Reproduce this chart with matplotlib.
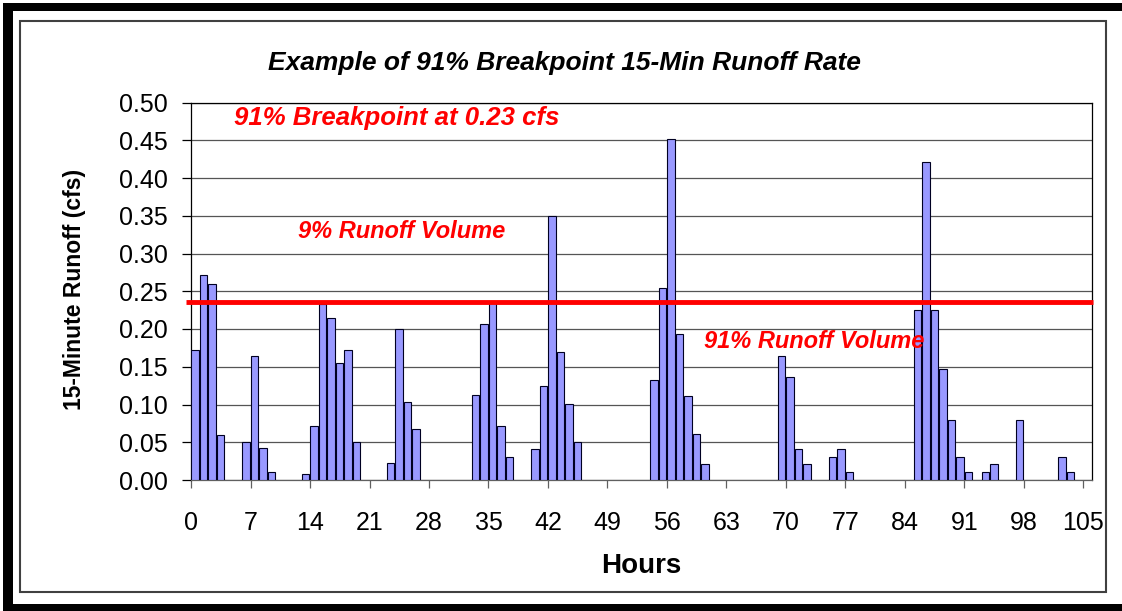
import matplotlib
matplotlib.use("Agg")
import matplotlib.pyplot as plt
from matplotlib.patches import Rectangle

plt.rcParams['font.family'] = ['Liberation Sans', 'DejaVu Sans']

# hours with runoff (all other hours are zero)
hours = [0, 1, 2, 3, 6, 7, 8, 9, 13, 14, 15, 16, 17, 18, 19, 23, 24, 25, 26,
         33, 34, 35, 36, 37, 40, 41, 42, 43, 44, 45, 54, 55, 56, 57, 58, 59, 60,
         69, 70, 71, 72, 75, 76, 77, 85, 86, 87, 88, 89, 90, 91, 93, 94, 97,
         102, 103]
runoff = [0.172, 0.272, 0.259, 0.059, 0.050, 0.164, 0.042, 0.010,
          0.008, 0.071, 0.233, 0.214, 0.155, 0.172, 0.050,
          0.023, 0.200, 0.103, 0.068,
          0.113, 0.206, 0.235, 0.071, 0.030,
          0.041, 0.125, 0.350, 0.170, 0.101, 0.050,
          0.133, 0.254, 0.452, 0.194, 0.111, 0.061, 0.021,
          0.164, 0.137, 0.041, 0.021,
          0.030, 0.041, 0.010,
          0.225, 0.421, 0.225, 0.147, 0.080, 0.030, 0.010,
          0.010, 0.021, 0.080, 0.030, 0.010]
breakpoint_cfs = 0.236
xticks = list(range(0, 106, 7))
yticks = [0.00, 0.05, 0.10, 0.15, 0.20, 0.25, 0.30, 0.35, 0.40, 0.45, 0.50]

W, H = 1122, 611
fig = plt.figure(figsize=(W / 100, H / 100), dpi=100)
fig.patch.set_facecolor('white')


def fx(px):
    return px / W


def fy(py):
    return 1 - py / H


# outer black frame (top, left, bottom) and inner thin border
for x0, y0, x1, y1 in [(3, 3, 1122, 11), (3, 3, 13, 611), (3, 604, 1122, 611)]:
    fig.add_artist(Rectangle((fx(x0), fy(y1)), fx(x1) - fx(x0), fy(y0) - fy(y1),
                             transform=fig.transFigure, facecolor='black',
                             edgecolor='none'))
fig.add_artist(Rectangle((fx(20), fy(592)), fx(1106) - fx(20), fy(21) - fy(592),
                         transform=fig.transFigure, facecolor='none',
                         edgecolor='#404040', linewidth=1.5))

ax = fig.add_axes([fx(191), fy(480), fx(1092) - fx(191), fy(102.5) - fy(480)])

ax.bar([h + 0.03 for h in hours], runoff, width=0.9, align='edge',
       color='#9999FF', edgecolor='#000022', linewidth=0.8, zorder=3)

ax.plot([-0.55, 106.1], [breakpoint_cfs, breakpoint_cfs], color='#FF0000',
        linewidth=3.5, solid_capstyle='butt', clip_on=False, zorder=4)

ax.set_xlim(0, 106)
ax.set_ylim(0, 0.5)
ax.set_xticks(xticks)
ax.set_xticklabels([str(t) for t in xticks])
ax.set_yticks(yticks)
ax.set_yticklabels(['%.2f' % t for t in yticks])
ax.yaxis.grid(True, color='#555555', linewidth=0.9, zorder=0)
ax.set_axisbelow(True)

ax.tick_params(axis='y', direction='out', length=6.5, width=0.9, pad=10,
               labelsize=18, colors='black')
ax.tick_params(axis='x', direction='out', length=6, width=0.9, pad=16,
               labelsize=18, color='#606060', labelcolor='black')
for side in ['left', 'top', 'right']:
    ax.spines[side].set_color('black')
    ax.spines[side].set_linewidth(0.9)
ax.spines['bottom'].set_color('#606060')
ax.spines['bottom'].set_linewidth(0.9)

# annotations
red_style = dict(color='#FF0000', fontweight='bold', fontstyle='italic',
                 va='center', ha='left', zorder=5)
ax.text(5.0, 0.479, '91% Breakpoint at 0.23 cfs', fontsize=18.5, **red_style)
ax.text(12.6, 0.3285, '9% Runoff Volume', fontsize=17, **red_style)
ax.text(60.3, 0.184, '91% Runoff Volume', fontsize=17, **red_style)

fig.text(fx(564.5), fy(63), 'Example of 91% Breakpoint 15-Min Runoff Rate',
         ha='center', va='center', fontsize=19, fontweight='bold',
         fontstyle='italic')
fig.text(fx(641.5), fy(566), 'Hours', ha='center', va='center',
         fontsize=20, fontweight='bold')
fig.text(fx(75), fy(289), '15-Minute Runoff (cfs)', ha='center', va='center',
         rotation=90, fontsize=16.5, fontweight='bold')

fig.savefig('out.png', dpi=100)
